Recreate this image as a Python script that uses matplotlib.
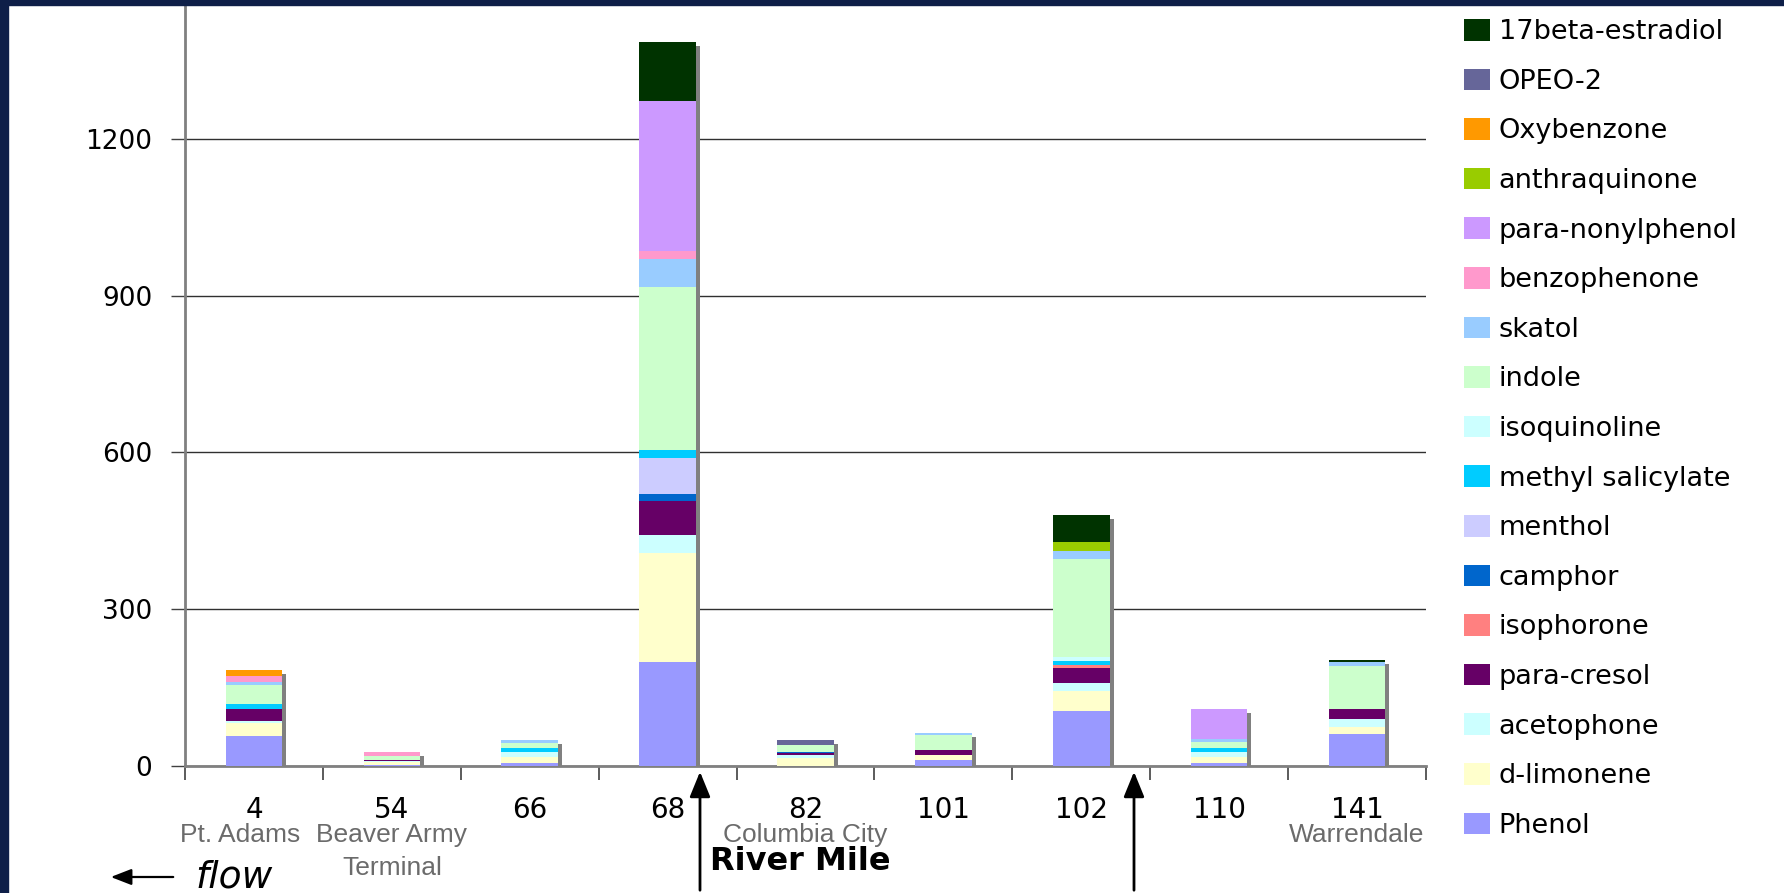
import matplotlib
matplotlib.use("Agg")
import matplotlib.pyplot as plt
import numpy as np
from matplotlib.patches import Patch, Rectangle
import matplotlib.transforms as mtransforms

# ---------------- data ----------------
river_miles = ["4", "54", "66", "68", "82", "101", "102", "110", "141"]
locations = ["Pt. Adams", "Beaver Army\nTerminal", "", "", "Columbia City", "", "", "", "Warrendale"]

# stacked bottom -> top
compounds = ["Phenol", "d-limonene", "acetophone", "para-cresol", "isophorone", "camphor",
             "menthol", "methyl salicylate", "isoquinoline", "indole", "skatol", "benzophenone",
             "para-nonylphenol", "anthraquinone", "Oxybenzone", "OPEO-2", "17beta-estradiol"]

phenol            = [56, 2, 6, 198, 0, 11, 105, 5, 61]
d_limonene        = [25, 6, 11, 209, 14, 9, 39, 12, 14]
acetophone        = [4, 1, 10, 35, 6, 0, 15, 9, 15]
para_cresol       = [23, 2, 0, 65, 5, 10, 29, 0, 19]
isophorone        = [0, 0, 0, 0, 0, 0, 4, 0, 0]
camphor           = [0, 0, 0, 13, 1.5, 0, 0, 0, 0]
menthol           = [0, 0, 0, 70, 0, 0, 0, 0, 0]
methyl_salicylate = [10, 0, 6, 15, 0, 0, 8, 8, 0]
isoquinoline      = [0, 0, 0, 0, 0, 0, 8, 0, 0]
indole            = [36, 8, 10, 312, 13, 29, 188, 11, 81]
skatol            = [6, 0, 6, 54, 0, 4, 15, 6, 9]
benzophenone      = [11, 8, 0, 14, 0, 0, 0, 0, 0]
para_nonylphenol  = [0, 0, 0, 288, 0, 0, 0, 57, 0]
anthraquinone     = [0, 0, 0, 0, 0, 0, 17, 0, 0]
oxybenzone        = [13, 0, 0, 0, 0, 0, 0, 0, 0]
opeo_2            = [0, 0, 0, 0, 10, 0, 0, 0, 0]
estradiol_17beta  = [0, 0, 0, 113, 0, 0, 52, 0, 4]

series = [phenol, d_limonene, acetophone, para_cresol, isophorone, camphor, menthol,
          methyl_salicylate, isoquinoline, indole, skatol, benzophenone, para_nonylphenol,
          anthraquinone, oxybenzone, opeo_2, estradiol_17beta]

colors = ["#9999FF", "#FFFFCC", "#CCFFFF", "#660066", "#FF8080", "#0066CC",
          "#CCCCFF", "#00CCFF", "#CCFFFF", "#CCFFCC", "#99CCFF", "#FF99CC",
          "#CC99FF", "#99CC00", "#FF9900", "#666699", "#003300"]

y_ticks = [0, 300, 600, 900, 1200]

# ---------------- figure ----------------
W, H = 1784, 893
fig = plt.figure(figsize=(W / 100, H / 100), dpi=100)
fig.patch.set_facecolor("white")

ax_left, ax_right, ax_bottom, ax_top = 185, 1426, 765.7, 6
ax = fig.add_axes([ax_left / W, 1 - ax_bottom / H, (ax_right - ax_left) / W, (ax_bottom - ax_top) / H])
ax.set_xlim(-0.5, 8.5)
ax.set_ylim(0, 1455)

x = np.arange(len(river_miles))
bw = 0.41
totals = np.sum(np.array(series, dtype=float), axis=0)

# shadow (offset ~4px right/down)
px_per_x = (ax_right - ax_left) / 9.0
px_per_y = (ax_bottom - ax_top) / 1455.0
dx = 4 / px_per_x
dy = 4 / px_per_y
ax.bar(x + dx, np.maximum(totals - dy, 0), width=bw, color="#808080", zorder=2, linewidth=0)

bottom = np.zeros(len(x))
for vals, c, name in zip(series, colors, compounds):
    v = np.array(vals, dtype=float)
    ax.bar(x, v, bottom=bottom, width=bw, color=c, zorder=3, linewidth=0, label=name)
    bottom += v

# gridlines
ax.set_yticks(y_ticks)
ax.yaxis.grid(True, color="#303030", linewidth=1.0, zorder=1)
ax.set_axisbelow(True)
ax.tick_params(axis="y", direction="out", length=10, width=1, color="#404040",
               labelsize=19, pad=13.5, labelcolor="black")

# x ticks: boundaries (major), labels at centers (minor)
ax.set_xticks(np.arange(-0.5, 9.0, 1.0))
ax.set_xticklabels([])
ax.set_xticks(x, minor=True)
ax.set_xticklabels(river_miles, minor=True)
ax.tick_params(axis="x", which="major", direction="out", length=10, width=1.2, color="#404040")
ax.tick_params(axis="x", which="minor", length=0, labelsize=20, pad=22)

for s in ["top", "right"]:
    ax.spines[s].set_visible(False)
for s in ["left", "bottom"]:
    ax.spines[s].set_color("#808080")
    ax.spines[s].set_linewidth(2)

# location labels
trans = mtransforms.blended_transform_factory(ax.transData, fig.transFigure)
for i, loc in enumerate(locations):
    if not loc:
        continue
    xi = i - 0.1 if i == 0 else i
    ax.text(xi, 1 - 823 / H, loc, transform=trans, ha="center", va="top",
            fontsize=19, color="#6b6b6b", family="Liberation Sans", linespacing=1.45)

# axis title
fig.text(800 / W, 1 - 861 / H, "River Mile", ha="center", va="center",
         fontsize=23, fontweight="bold", color="black")

# flow arrow + label
fig.add_artist(matplotlib.patches.FancyArrowPatch((176 / W, 1 - 877 / H), (108 / W, 1 - 877 / H),
               transform=fig.transFigure, arrowstyle="-|>,head_length=0.9,head_width=0.35",
               mutation_scale=14, color="black", linewidth=1.6))
fig.text(195 / W, 1 - 878 / H, "flow", ha="left", va="center", fontsize=27,
         style="italic", color="black")

# vertical arrows
for xa in [700, 1134]:
    fig.add_artist(matplotlib.patches.FancyArrowPatch((xa / W, 0.0), (xa / W, 1 - 769 / H),
                   transform=fig.transFigure, arrowstyle="-|>,head_length=1.1,head_width=0.45",
                   mutation_scale=14, color="black", linewidth=2))

# navy border on left and top
fig.add_artist(Rectangle((0, 0), 8 / W, 1, transform=fig.transFigure, color="#0E1F48", zorder=10))
fig.add_artist(Rectangle((0, 1 - 5 / H), 1, 5 / H, transform=fig.transFigure, color="#0E1F48", zorder=10))

# legend (top entry = last stacked)
handles = [Patch(facecolor=c, edgecolor="none") for c in colors[::-1]]
labels = compounds[::-1]
fig.legend(handles, labels, loc="upper left", bbox_to_anchor=(1464 / W, 1 - 19 / H),
           frameon=False, fontsize=19.5, handlelength=0.95, handleheight=0.85,
           handletextpad=0.33, labelspacing=0.865, borderpad=0, borderaxespad=0)

fig.savefig("out.png", dpi=100, facecolor="white")
